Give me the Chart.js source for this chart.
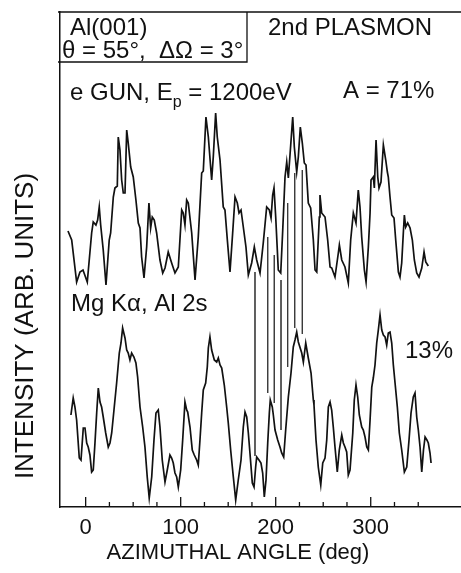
<!DOCTYPE html>
<html>
<head>
<meta charset="utf-8">
<script src="https://cdn.jsdelivr.net/npm/chart.js@4.4.1/dist/chart.umd.min.js"></script>
<style>
  html, body { margin: 0; padding: 0; background: #fff; }
  #wrap { width: 461px; height: 573px; }
</style>
</head>
<body>
<div id="wrap"><canvas id="plasmon" width="461" height="573"></canvas></div>
<script>
// 2nd plasmon, e gun (upper trace) - angle in deg, intensity arb.
var upperAngle = [
  -18.6, -14.7, -9.5, -6.0, -2.8, 1.7, 6.3, 8.0, 10.8, 12.6,
  14.3, 15.8, 18.5, 21.4, 24.8, 26.3, 29.1, 30.8, 33.3, 34.3,
  36.1, 37.9, 39.6, 41.4, 43.2, 44.8, 47.4, 50.1, 52.9, 55.4,
  57.2, 58.9, 61.4, 64.2, 66.6, 68.4, 70.1, 72.2, 74.7, 78.2,
  81.1, 83.5, 86.9, 90.5, 94.0, 97.5, 101.1, 102.7, 104.5, 106.3,
  108.0, 111.6, 115.1, 118.5, 122.1, 123.8, 126.6, 129.1, 132.6, 134.3,
  136.8, 138.5, 141.4, 144.8, 146.6, 149.1, 151.9, 154.7, 157.2, 159.6,
  161.4, 163.5, 165.9, 168.7, 171.2, 174.7, 177.5, 180.0, 183.5, 186.9,
  190.5, 193.3, 195.1, 196.8, 198.2, 200.0, 201.7, 202.7, 205.3, 207.4,
  209.8, 211.6, 213.3, 215.8, 217.9, 219.6, 222.1, 223.8, 225.9, 228.0,
  230.1, 231.9, 234.3, 236.8, 239.6, 241.4, 243.2, 245.9, 246.6, 248.4,
  251.9, 254.7, 257.2, 259.0, 262.4, 265.9, 267.0, 269.5, 272.9, 276.4,
  278.9, 281.7, 284.5, 286.9, 288.7, 290.5, 293.3, 295.1, 297.5, 299.3,
  300.3, 302.7, 303.8, 305.6, 307.4, 308.7, 310.8, 313.3, 315.8, 317.5,
  318.5, 320.3, 322.1, 324.5, 326.3, 329.1, 330.8, 332.6, 334.3, 335.4,
  336.8, 338.9, 341.4, 343.8, 345.9, 348.4, 350.8, 353.7, 356.1, 357.9, 360.6,
];
var upperValue = [
  276, 267, 225, 235, 237, 225, 274, 285, 282, 287,
  300, 282, 257, 222, 267, 274, 310, 319, 321, 370,
  357, 327, 314, 314, 377, 364, 340, 330, 307, 284,
  279, 250, 229, 260, 304, 279, 290, 287, 274, 247,
  234, 239, 255, 244, 234, 240, 297, 294, 282, 307,
  304, 274, 227, 270, 334, 336, 390, 370, 327, 350,
  394, 370, 347, 300, 297, 267, 235, 274, 310, 304,
  294, 297, 280, 260, 232, 244, 260, 247, 234, 264,
  300, 297, 289, 312, 319, 290, 257, 237, 234, 277,
  330, 345, 329, 362, 390, 360, 335, 350, 380, 364,
  344, 342, 304, 299, 267, 237, 235, 290, 312, 294,
  290, 267, 240, 239, 230, 254, 262, 247, 240, 224,
  267, 294, 284, 317, 300, 270, 237, 225, 260, 294,
  327, 330, 319, 367, 330, 319, 325, 362, 347, 335,
  330, 310, 292, 289, 267, 235, 230, 244, 274, 292,
  280, 284, 279, 267, 247, 234, 230, 239, 255, 245, 241,
];

// Mg K-alpha, Al 2s (lower trace)
var lowerAngle = [
  -15.5, -13.1, -11.3, -9.5, -6.7, -4.9, -2.5, -0.7, 1.1, 2.7,
  4.5, 6.3, 8.0, 9.8, 11.6, 13.3, 15.1, 16.8, 18.5, 21.1,
  23.8, 25.6, 27.4, 29.8, 32.6, 35.4, 37.2, 38.9, 41.4, 43.2,
  44.8, 46.6, 48.4, 50.8, 52.9, 54.7, 57.2, 60.0, 62.4, 64.8,
  66.9, 69.5, 71.9, 74.0, 76.4, 78.2, 80.6, 83.5, 85.9, 88.7,
  90.5, 92.2, 94.0, 95.8, 97.5, 100.0, 102.1, 104.5, 106.3, 107.4,
  109.8, 112.2, 114.3, 116.8, 118.5, 120.3, 122.1, 123.8, 126.3, 128.0,
  129.1, 130.8, 132.6, 135.4, 137.9, 139.6, 141.4, 143.2, 145.9, 148.4,
  150.1, 152.6, 155.4, 157.9, 160.6, 163.5, 165.9, 167.7, 169.5, 171.2,
  172.9, 175.4, 177.2, 178.9, 180.0, 182.4, 184.5, 186.3, 188.0, 189.8,
  191.6, 193.3, 194.3, 196.4, 197.5, 199.3, 202.1, 204.5, 206.3, 208.4,
  210.5, 213.3, 216.1, 218.5, 220.3, 222.1, 223.8, 227.4, 229.1, 231.6,
  234.3, 237.2, 239.6, 240.3, 242.4, 244.8, 247.4, 249.5, 251.9, 253.7,
  255.4, 257.2, 258.9, 260.6, 262.4, 264.8, 266.9, 269.5, 271.2, 272.9,
  274.7, 276.4, 278.2, 281.1, 282.7, 284.5, 286.3, 288.0, 290.5, 292.2,
  294.0, 295.8, 297.5, 299.3, 301.1, 302.7, 304.5, 306.3, 308.0, 309.8,
  311.6, 313.3, 315.1, 316.8, 318.5, 320.3, 322.1, 323.8, 325.6, 328.0,
  330.1, 332.6, 335.4, 337.9, 340.3, 342.4, 344.8, 346.6, 348.4, 350.1,
  351.9, 353.7, 355.5, 357.2, 359.1, 360.6, 362.4, 363.5,
];
var lowerValue = [
  92, 109, 100, 87, 49, 47, 79, 79, 64, 60,
  52, 35, 37, 64, 94, 119, 105, 100, 90, 74,
  60, 64, 74, 97, 124, 154, 164, 179, 169, 157,
  154, 147, 154, 150, 144, 130, 100, 80, 60, 30,
  9, 30, 67, 94, 97, 80, 47, 25, 37, 52,
  49, 44, 34, 30, 20, 37, 67, 105, 97, 95,
  80, 57, 52, 47, 42, 67, 94, 117, 124, 140,
  159, 170, 157, 147, 145, 149, 142, 139, 122, 100,
  84, 57, 30, 7, 27, 47, 80, 95, 90, 74,
  54, 24, 20, 40, 50, 47, 44, 34, 10, 27,
  64, 94, 107, 100, 92, 77, 67, 60, 54, 50,
  77, 110, 134, 160, 167, 175, 165, 154, 145, 164,
  149, 134, 107, 102, 67, 40, 22, 44, 49, 67,
  100, 105, 97, 80, 60, 35, 57, 72, 64, 60,
  55, 32, 37, 74, 107, 122, 110, 92, 80, 77,
  70, 60, 57, 87, 120, 129, 142, 164, 177, 192,
  177, 172, 170, 162, 174, 175, 164, 142, 124, 100,
  74, 57, 35, 40, 67, 94, 110, 114, 90, 77,
  60, 35, 57, 70, 67, 64, 54, 44,
];

// thin connector lines between the two traces
var linkAngle = [178.2, 191.6, 198.5, 205.6, 212.6, 220.0, 228.0];
var linkTop = [235, 270, 252, 227, 304, 334, 337];
var linkBottom = [51, 114, 104, 77, 140, 179, 173];

var FONT = "'Liberation Sans', Arial, Helvetica, sans-serif";

function pairs(xs, ys) {
  return xs.map(function (x, i) { return { x: x, y: ys[i] }; });
}

var links = [];
linkAngle.forEach(function (a, i) {
  links.push({ x: a, y: linkTop[i] });
  links.push({ x: a, y: linkBottom[i] });
  links.push({ x: a, y: null });
});

// inside ticks, top frame, label box and the texts
var decor = {
  id: "decor",
  afterDatasetsDraw: function (chart) {
    var ctx = chart.ctx;
    var area = chart.chartArea;
    var xs = chart.scales.x;
    ctx.save();
    ctx.strokeStyle = "#111";
    ctx.lineWidth = 1.3;
    xs.ticks.forEach(function (t) {
      var px = xs.getPixelForValue(t.value);
      var len = t.value % 100 === 0 ? 10 : 5;
      ctx.beginPath();
      ctx.moveTo(px, area.bottom);
      ctx.lineTo(px, area.bottom - len);
      ctx.stroke();
    });
    ctx.beginPath();
    ctx.moveTo(area.left - 2, area.top);
    ctx.lineTo(area.right, area.top);
    ctx.moveTo(247, area.top);
    ctx.lineTo(247, 62);
    ctx.lineTo(area.left - 2, 62);
    ctx.stroke();

    ctx.fillStyle = "#111";
    ctx.textBaseline = "alphabetic";
    ctx.textAlign = "left";
    ctx.font = "24px " + FONT;
    ctx.fillText("Al(001)", 70, 35);
    ctx.fillText("\u03b8 = 55\u00b0,  \u0394\u03a9 = 3\u00b0", 62, 58);
    ctx.fillText("2nd PLASMON", 268, 35);
    ctx.fillText("A = 71%", 343, 98);
    ctx.fillText("Mg K\u03b1, Al 2s", 71, 311);
    ctx.fillText("13%", 405, 358);

    var s1 = "e GUN, E";
    ctx.fillText(s1, 70, 100);
    var w1 = ctx.measureText(s1).width;
    ctx.font = "16px " + FONT;
    ctx.fillText("p", 70 + w1, 107);
    var w2 = ctx.measureText("p").width;
    ctx.font = "24px " + FONT;
    ctx.fillText(" = 1200eV", 70 + w1 + w2, 100);

    ctx.font = "22px " + FONT;
    ctx.textAlign = "center";
    ctx.fillText("AZIMUTHAL ANGLE (deg)", 238, 559);

    ctx.translate(26, 326);
    ctx.rotate(-Math.PI / 2);
    ctx.textBaseline = "middle";
    ctx.font = "26px " + FONT;
    ctx.fillText("INTENSITY (ARB. UNITS)", 0, 0);
    ctx.restore();
  },
};

var ctx = document.getElementById("plasmon").getContext("2d");
var myChart = new Chart(ctx, {
  type: "line",
  data: {
    datasets: [
      {
        label: "e GUN, Ep = 1200eV",
        data: pairs(upperAngle, upperValue),
        borderColor: "#111",
        borderWidth: 1.7,
        pointRadius: 0,
        tension: 0,
      },
      {
        label: "Mg K\u03b1, Al 2s",
        data: pairs(lowerAngle, lowerValue),
        borderColor: "#111",
        borderWidth: 1.7,
        pointRadius: 0,
        tension: 0,
      },
      {
        label: "links",
        data: links,
        borderColor: "#333",
        borderWidth: 0.8,
        pointRadius: 0,
        spanGaps: false,
      },
    ],
  },
  options: {
    responsive: false,
    animation: false,
    devicePixelRatio: 1,
    layout: { padding: { top: 12, right: 0, left: 0, bottom: 0 } },
    plugins: { legend: { display: false }, tooltip: { enabled: false } },
    scales: {
      x: {
        type: "linear",
        min: -27,
        max: 395,
        afterFit: function (s) { s.height = 66; },
        afterBuildTicks: function (s) {
          s.ticks = s.ticks.filter(function (t) { return t.value >= 0 && t.value <= 350; });
        },
        ticks: {
          stepSize: 25,
          includeBounds: false,
          autoSkip: false,
          maxRotation: 0,
          padding: 0,
          color: "#111",
          font: { family: FONT, size: 22 },
          callback: function (v) { return v % 100 === 0 ? v : ""; },
        },
        grid: { display: false },
        border: { display: true, color: "#111", width: 1.5 },
      },
      y: {
        min: 0,
        max: 495,
        afterFit: function (s) { s.width = 60; },
        ticks: { display: false },
        grid: { display: false },
        border: { display: true, color: "#111", width: 1.5 },
      },
    },
  },
  plugins: [decor],
});
</script>
</body>
</html>
